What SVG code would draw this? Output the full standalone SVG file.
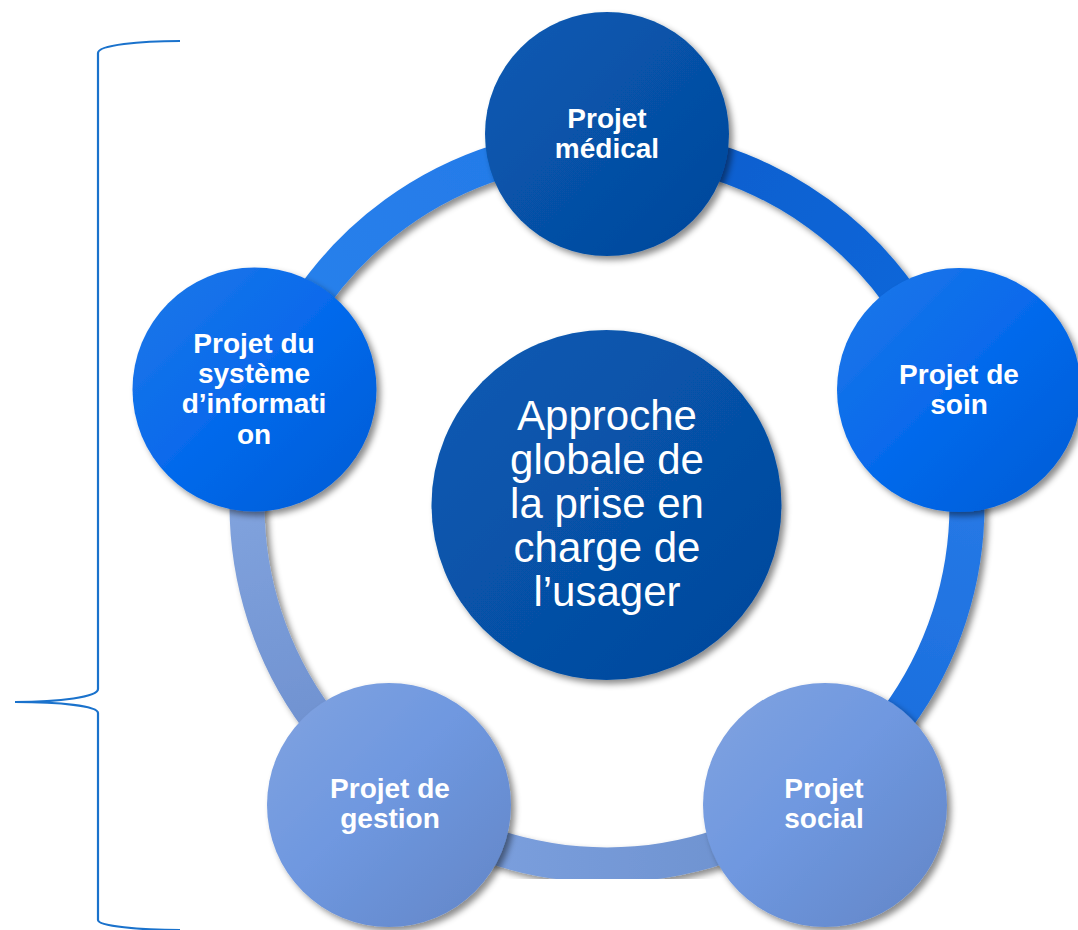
<svg xmlns="http://www.w3.org/2000/svg" width="1078" height="930" viewBox="0 0 1078 930">
  <defs>
    <filter id="shadow" x="-20%" y="-20%" width="140%" height="140%">
      <feDropShadow dx="4" dy="4" stdDeviation="3" flood-color="#000" flood-opacity="0.45"/>
    </filter>
    <linearGradient id="gDark" x1="0" y1="0" x2="1" y2="1">
      <stop offset="0" stop-color="#0a5bb4"/>
      <stop offset="1" stop-color="#03479a"/>
    </linearGradient>
    <linearGradient id="gBright" x1="0" y1="0" x2="1" y2="1">
      <stop offset="0" stop-color="#1f78e8"/>
      <stop offset="0.5" stop-color="#0569ec"/>
      <stop offset="1" stop-color="#005cd4"/>
    </linearGradient>
    <linearGradient id="gPale" x1="0" y1="0" x2="1" y2="1">
      <stop offset="0" stop-color="#81a3e0"/>
      <stop offset="0.45" stop-color="#6f98e0"/>
      <stop offset="1" stop-color="#6285c6"/>
    </linearGradient>
    <linearGradient id="gArc1" gradientUnits="userSpaceOnUse" x1="607" y1="145" x2="949" y2="394">
      <stop offset="0" stop-color="#075ecc"/>
      <stop offset="1" stop-color="#0a68dc"/>
    </linearGradient>
    <linearGradient id="gArc2" gradientUnits="userSpaceOnUse" x1="949" y1="394" x2="819" y2="796">
      <stop offset="0" stop-color="#2a7ce8"/>
      <stop offset="1" stop-color="#186cdc"/>
    </linearGradient>
    <linearGradient id="gArc3" gradientUnits="userSpaceOnUse" x1="819" y1="796" x2="395" y2="796">
      <stop offset="0" stop-color="#6b8fcc"/>
      <stop offset="1" stop-color="#7fa3e2"/>
    </linearGradient>
    <linearGradient id="gArc4" gradientUnits="userSpaceOnUse" x1="395" y1="796" x2="265" y2="394">
      <stop offset="0" stop-color="#6a8ccc"/>
      <stop offset="1" stop-color="#87a9e2"/>
    </linearGradient>
    <linearGradient id="gArc5" gradientUnits="userSpaceOnUse" x1="265" y1="394" x2="607" y2="145">
      <stop offset="0" stop-color="#2a82ec"/>
      <stop offset="1" stop-color="#2279e8"/>
    </linearGradient>
    <style>
      .arc { fill: none; stroke-width: 35; filter: url(#shadow); }
      .node { filter: url(#shadow); }
      .lbl { font-family: "Liberation Sans", Arial, sans-serif; font-weight: bold; font-size: 28px; fill: #fff; text-anchor: middle; }
      .hub { font-family: "Liberation Sans", Arial, sans-serif; font-size: 42px; fill: #fff; text-anchor: middle; }
      .brace { fill: none; stroke: #1a72cc; stroke-width: 2.2; }
    </style>
  </defs>

  <!-- bracket on the left -->
  <path class="brace" d="M180,41 C140,41 98,45 98,53 L98,689 C98,697 60,702 15,702 C60,702 98,706 98,713 L98,920 C98,926 140,930 180,930"/>

  <!-- ring segments linking the outer nodes -->
  <g id="connectors">
    <path class="arc" stroke="url(#gArc1)" d="M607,145 A360,360 0 0 1 949.4,393.8"/>
    <path class="arc" stroke="url(#gArc2)" d="M949.4,393.8 A360,360 0 0 1 818.6,796.2"/>
    <path class="arc" stroke="url(#gArc3)" d="M818.6,796.2 A360,360 0 0 1 395.4,796.2"/>
    <path class="arc" stroke="url(#gArc4)" d="M395.4,796.2 A360,360 0 0 1 264.6,393.8"/>
    <path class="arc" stroke="url(#gArc5)" d="M264.6,393.8 A360,360 0 0 1 607,145"/>
  </g>

  <g id="hub">
    <circle class="node" cx="606.5" cy="505" r="175" fill="url(#gDark)"/>
    <text class="hub" x="607" y="430">Approche</text>
    <text class="hub" x="607" y="474">globale de</text>
    <text class="hub" x="607" y="518">la prise en</text>
    <text class="hub" x="607" y="562">charge de</text>
    <text class="hub" x="607" y="606">l’usager</text>
  </g>

  <g id="medical">
    <circle class="node" cx="607" cy="134" r="122" fill="url(#gDark)"/>
    <text class="lbl" x="607" y="128">Projet</text>
    <text class="lbl" x="607" y="158">médical</text>
  </g>

  <g id="soin">
    <circle class="node" cx="959" cy="390" r="122" fill="url(#gBright)"/>
    <text class="lbl" x="959" y="384">Projet de</text>
    <text class="lbl" x="959" y="414">soin</text>
  </g>

  <g id="social">
    <circle class="node" cx="825" cy="805" r="122" fill="url(#gPale)"/>
    <text class="lbl" x="824" y="798">Projet</text>
    <text class="lbl" x="824" y="828">social</text>
  </g>

  <g id="gestion">
    <circle class="node" cx="389" cy="805" r="122" fill="url(#gPale)"/>
    <text class="lbl" x="390" y="798">Projet de</text>
    <text class="lbl" x="390" y="828">gestion</text>
  </g>

  <g id="systeme-information">
    <circle class="node" cx="254.5" cy="389.5" r="122" fill="url(#gBright)"/>
    <text class="lbl" x="254" y="353">Projet du</text>
    <text class="lbl" x="254" y="383">système</text>
    <text class="lbl" x="254" y="413">d’informati</text>
    <text class="lbl" x="254" y="444">on</text>
  </g>
</svg>
